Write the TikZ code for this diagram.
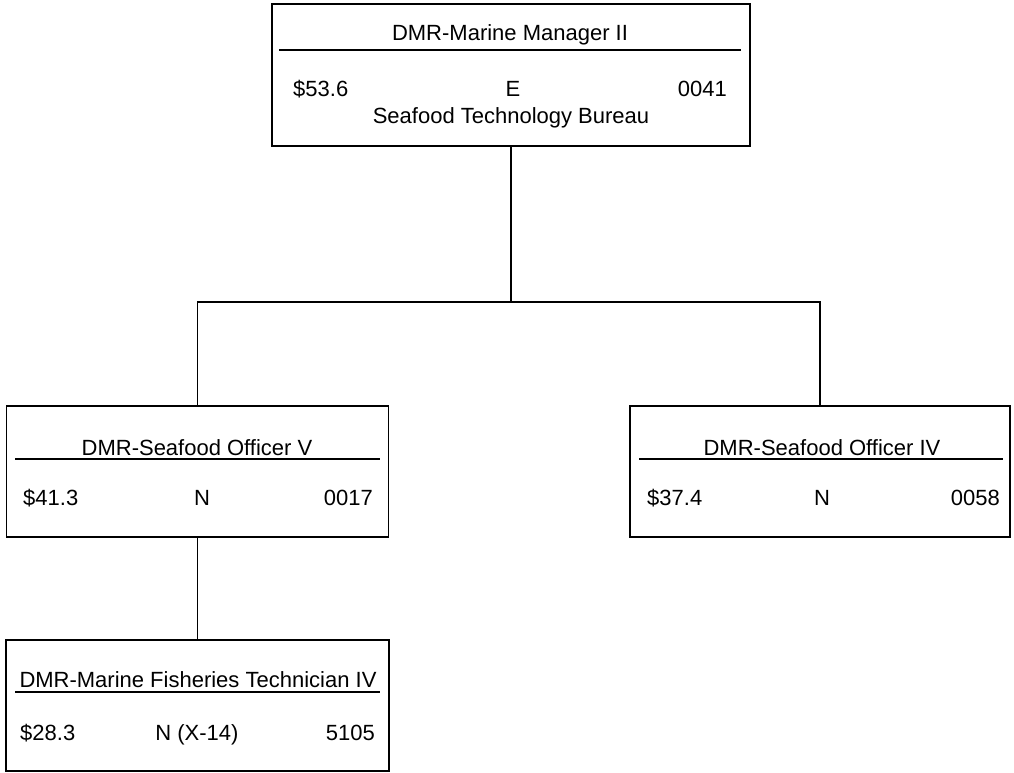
\documentclass[tikz,border=0pt]{standalone}
\usepackage{fontspec}
\setmainfont{Liberation Sans}

\begin{document}
\begin{tikzpicture}%
        [x={(1pt,0pt)},
        y={(0pt,-1pt)},
        box/.style={draw=black, line width=1.7pt, rectangle, inner sep=0pt},
        txt/.style={inner sep=0pt, font=\fontsize{22}{26}\selectfont},
        rule/.style={draw=black, line width=1.4pt},
        link/.style={draw=black, line width=1.7pt}]

    \useasboundingbox (0,0) rectangle (1014,773);

    %% Drawing the boxes
    \node[box, minimum width=478pt, minimum height=142pt] (mgr)   at (511,75)    {};
    \node[box, minimum width=382pt, minimum height=131pt] (offV)  at (197.5,471.5) {};
    \node[box, minimum width=380pt, minimum height=131pt] (offIV) at (820,471.5) {};
    \node[box, minimum width=383pt, minimum height=131pt] (tech)  at (197.5,705.5) {};
    %%
    %% Drawing the texts of the top box
    %%
    \node[txt, anchor=base]      (mgrTitle) at (510,41)  {DMR-Marine Manager II};
    \draw[rule] (279,50) -- (741,50);
    \node[txt, anchor=base west] (mgrPay)   at (293,97)  {\$53.6};
    \node[txt, anchor=base]      (mgrCode)  at (513,97)  {E};
    \node[txt, anchor=base east] (mgrNum)   at (727,97)  {0041};
    \node[txt, anchor=base]      (mgrUnit)  at (511,124) {Seafood Technology Bureau};
    %%
    %% Drawing the texts of the left box
    %%
    \node[txt, anchor=base]      (offVTitle) at (197,455) {DMR-Seafood Officer V};
    \draw[rule] (15,459) -- (380,459);
    \node[txt, anchor=base west] (offVPay)   at (23,505)  {\$41.3};
    \node[txt, anchor=base]      (offVCode)  at (202,505) {N};
    \node[txt, anchor=base east] (offVNum)   at (373,505) {0017};
    %%
    %% Drawing the texts of the right box
    %%
    \node[txt, anchor=base]      (offIVTitle) at (822,455) {DMR-Seafood Officer IV};
    \draw[rule] (639,459) -- (1003,459);
    \node[txt, anchor=base west] (offIVPay)   at (647,505) {\$37.4};
    \node[txt, anchor=base]      (offIVCode)  at (822,505) {N};
    \node[txt, anchor=base east] (offIVNum)   at (1000,505) {0058};
    %%
    %% Drawing the texts of the bottom box
    %%
    \node[txt, anchor=base]      (techTitle) at (198,687) {DMR-Marine Fisheries Technician IV};
    \draw[rule] (15,692) -- (380,692);
    \node[txt, anchor=base west] (techPay)   at (20,740)  {\$28.3};
    \node[txt, anchor=base]      (techCode)  at (197,740) {N (X-14)};
    \node[txt, anchor=base east] (techNum)   at (375,740) {5105};
    %%
    %% Drawing the connectors
    %%
    \coordinate (split) at (511,302);
    \draw[link] (mgr.south) -- (split);
    \draw[link] (offV.north) |- (split) -| (offIV.north);
    \draw[link] (offV.south) -- (tech.north);
    %%
\end{tikzpicture}
\end{document}
